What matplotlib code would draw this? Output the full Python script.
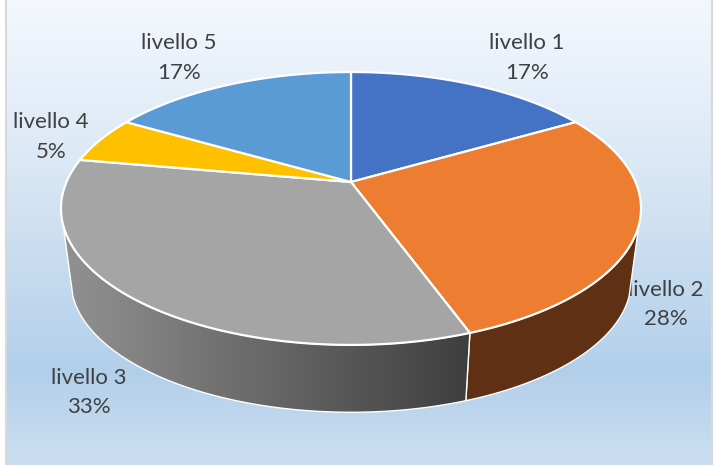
from matplotlib import pyplot as plt
from matplotlib.colors import LinearSegmentedColormap
from matplotlib.patches import Polygon
import numpy as np

plt.rcParams['font.family'] = ['Lato', 'DejaVu Sans']

labels = ['livello 1', 'livello 2', 'livello 3', 'livello 4', 'livello 5']
values = [16.67, 27.78, 33.33, 5.55, 16.67]
pct_labels = ['17%', '28%', '33%', '5%', '17%']
colors = ['#4472C4', '#ED7D31', '#A5A5A5', '#FFC000', '#5B9BD5']

# posizione delle etichette in pixel (riga nome, riga percentuale)
label_x = [527, 666, 89, 51, 179]
name_y = [43, 290, 378, 122, 43]
pct_y = [73, 319, 407, 152, 73]

W, H = 723, 465
CX, CY = 351, 182      # centro della torta in prospettiva
SX, SLOPE, A = 284.5, 0.194, -96
EY, DROP, SCALE = 208, 72, 0.966   # anello inferiore
EDGE_R, EDGE_L = 108, 252          # dove finisce il fianco visibile


def top(deg):
    # cerchio unitario -> piano della torta (angoli in senso orario dall'alto)
    t = np.radians(deg)
    x, y = np.sin(t), np.cos(t)
    d = 1 + SLOPE * y
    return CX + SX * x / d, (CY + A * y) / d


def bottom(deg):
    x, y = top(deg)
    return CX + SCALE * (x - CX), EY + DROP + SCALE * (y - EY)


def arc(fn, a, b):
    n = max(int(abs(b - a) * 2), 2)
    return np.column_stack(fn(np.linspace(a, b, n)))


def side(a, b):
    return np.vstack([arc(top, a, b), arc(bottom, b, a)])


fig = plt.figure(figsize=(W / 100, H / 100), dpi=100)
ax = fig.add_axes([0, 0, 1, 1])
ax.axis('off')

# sfondo sfumato
bg = LinearSegmentedColormap.from_list('bg', [(0, '#f4f8fe'), (0.35, '#dbe8f5'), (0.8, '#b2cfea'), (1, '#cbdff1')])
ax.imshow(np.linspace(0, 1, 256).reshape(-1, 1), cmap=bg, vmin=0, vmax=1, extent=(5, 711, H, 0), aspect='auto', zorder=0)
ax.plot([5.5, 5.5], [0, H], color='#d9d9d9', lw=1.5, zorder=1)
ax.plot([711.5, 711.5], [0, H], color='#d9d9d9', lw=1.5, zorder=1)

# le etichette stanno sotto la torta (la "l" di livello 2 viene coperta)
for name, pct, x, y1, y2 in zip(labels, pct_labels, label_x, name_y, pct_y):
    ax.text(x, y1, name, ha='center', va='center', fontsize=16, color='#404040', zorder=2)
    ax.text(x, y2, pct, ha='center', va='center', fontsize=16, color='#404040', zorder=2)

bounds = np.concatenate([[0], np.cumsum(values)]) / sum(values) * 360

# fianco arancione
ax.add_patch(Polygon(side(EDGE_R, bounds[2]), closed=True, facecolor='#5F3014', edgecolor='white', lw=1, zorder=3))

# fianco grigio con sfumatura orizzontale
ax.add_patch(Polygon(side(bounds[2], EDGE_L), closed=True, facecolor='none', edgecolor='white', lw=1, zorder=4))
grey = LinearSegmentedColormap.from_list('grey', ['#929292', '#3e3e3e'])
im = ax.imshow(np.linspace(0, 1, 256).reshape(1, -1), cmap=grey, extent=(60, 471, 420, 150), aspect='auto', zorder=3)
im.set_clip_path(Polygon(side(bounds[2], EDGE_L), closed=True, transform=ax.transData))

# faccia superiore
for i, c in enumerate(colors):
    pts = np.vstack([[CX, CY], arc(top, bounds[i], bounds[i + 1])])
    ax.add_patch(Polygon(pts, closed=True, facecolor=c, edgecolor='white', lw=1.6, joinstyle='round', zorder=5))

ax.set_xlim(0, W)
ax.set_ylim(H, 0)
fig.savefig('out.png', dpi=100)
